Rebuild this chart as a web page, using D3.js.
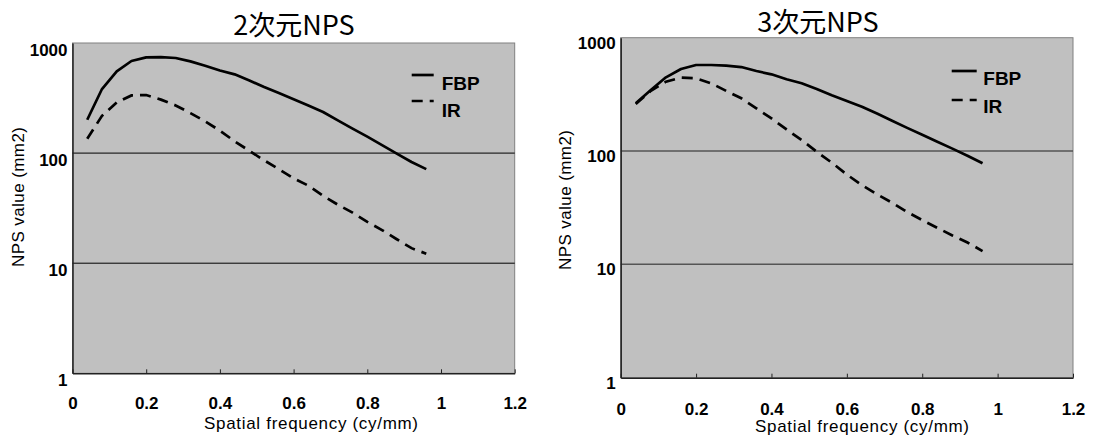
<!DOCTYPE html>
<html>
<head>
<meta charset="utf-8">
<title>NPS</title>
<script src="https://d3js.org/d3.v7.min.js"></script>
<style>
body { margin: 0; padding: 0; background: #fff; }
svg text { font-family: "Liberation Sans", Arial, sans-serif; fill: #000; }
.title { font-family: "Noto Sans CJK JP", sans-serif; font-size: 27px; }
.tick text { font-weight: bold; font-size: 17px; }
.axlabel { font-size: 17px; }
.legend text { font-weight: bold; font-size: 19px; }
</style>
</head>
<body>
<svg id="chart" width="1093" height="438"></svg>
<script>
// spatial frequency (cy/mm)
var freq = [0.04, 0.08, 0.12, 0.16, 0.20, 0.24, 0.28, 0.32, 0.36, 0.40, 0.44, 0.48,
            0.52, 0.56, 0.60, 0.64, 0.68, 0.72, 0.76, 0.80, 0.84, 0.88, 0.92, 0.96];

// NPS value (mm2)
var fbp2d = [201, 382, 552, 686, 740, 743, 731, 681, 622, 563, 519, 457,
             398, 351, 309, 271, 236, 198, 167, 141, 118, 99, 83, 71.5];
var ir2d  = [135, 218, 288, 334, 337, 306, 271, 231, 194, 160, 128, 105,
             86, 71.5, 59, 50.7, 41, 34, 28.8, 23.7, 20, 16.5, 13.7, 12.2];
var fbp3d = [264, 345, 447, 529, 574, 574, 566, 551, 508, 475, 430, 396,
             353, 310, 276, 246, 214, 185, 160, 139, 121, 105, 91, 78];
var ir3d  = [260, 340, 409, 444, 438, 396, 339, 292, 238, 194, 155, 125,
             98.6, 79, 62, 50, 41.5, 35, 29, 24.6, 21, 18, 15.6, 13.1];

var xTicks = [0, 0.2, 0.4, 0.6, 0.8, 1, 1.2];
var yTicks = [1, 10, 100, 1000];
var titles = ["2次元NPS", "3次元NPS"];
var seriesNames = ["FBP", "IR"];

// layout of the two panels (pixels)
var panels = [
  {title: titles[0], fbp: fbp2d, ir: ir2d,
   left: 72.5, right: 514.7, top: 43, bottom: 373.3,
   titleX: 294, titleY: 35, grid: "#000", gridW: 1,
   xLabY: 409, yLabDy: 12.5, xTitleX: 311, xTitleY: 429, yTitleX: 24, yTitleY: 197,
   legX: 411.7, legLen: 22, legTextX: 441.7, legY: [75, 101], legTextY: [90, 117]},
  {title: titles[1], fbp: fbp3d, ir: ir3d,
   left: 620.7, right: 1073, top: 37.7, bottom: 377.7,
   titleX: 818, titleY: 32, grid: "#555", gridW: 1.5,
   xLabY: 415, yLabDy: 10.5, xTitleX: 862, xTitleY: 432, yTitleX: 571, yTitleY: 200,
   legX: 951.7, legLen: 25, legTextX: 983.3, legY: [71, 100], legTextY: [85, 113]}
];

var svg = d3.select("#chart");

panels.forEach(function(p) {
  var x = d3.scaleLinear().domain([0, 1.2]).range([p.left, p.right]);
  var y = d3.scaleLog().domain([1, 1000]).range([p.bottom, p.top]);
  var g = svg.append("g");

  // plot background
  g.append("rect")
    .attr("x", p.left).attr("y", p.top)
    .attr("width", p.right - p.left).attr("height", p.bottom - p.top)
    .attr("fill", "#c0c0c0").attr("stroke", "#808080").attr("stroke-width", 1);

  // horizontal gridlines
  g.append("g")
    .selectAll("line")
    .data([10, 100])
    .enter().append("line")
    .attr("x1", p.left).attr("x2", p.right)
    .attr("y1", function(d) { return y(d); })
    .attr("y2", function(d) { return y(d); })
    .attr("stroke", p.grid).attr("stroke-width", p.gridW);

  // x axis, ticks pointing inward
  var gx = g.append("g")
    .attr("transform", "translate(0," + p.bottom + ")")
    .call(d3.axisBottom(x).tickValues(xTicks).tickSizeInner(-4).tickSizeOuter(0)
      .tickFormat(function(d) { return d3.format("")(d); }));
  gx.select(".domain").attr("stroke", "#222").attr("stroke-width", 1.5);
  gx.selectAll(".tick line").attr("stroke", "#222");
  gx.selectAll(".tick text").attr("y", p.xLabY - p.bottom).attr("dy", null);

  // y axis
  var gy = g.append("g")
    .attr("transform", "translate(" + p.left + ",0)")
    .call(d3.axisLeft(y).tickValues(yTicks).tickSize(0).tickPadding(5)
      .tickFormat(d3.format("d")));
  gy.select(".domain").attr("stroke", "#222").attr("stroke-width", 1.5);
  gy.selectAll(".tick text").attr("dy", null).attr("y", p.yLabDy);

  // series
  var line = d3.line()
    .x(function(d) { return x(d[0]); })
    .y(function(d) { return y(d[1]); });

  g.append("path")
    .datum(d3.zip(freq, p.fbp))
    .attr("d", line)
    .attr("fill", "none").attr("stroke", "#000").attr("stroke-width", 2.7)
    .attr("stroke-linejoin", "round");

  g.append("path")
    .datum(d3.zip(freq, p.ir))
    .attr("d", line)
    .attr("fill", "none").attr("stroke", "#000").attr("stroke-width", 2.7)
    .attr("stroke-dasharray", "11,7");

  // legend
  var lg = g.append("g").attr("class", "legend");
  seriesNames.forEach(function(name, i) {
    lg.append("line")
      .attr("x1", p.legX).attr("x2", p.legX + p.legLen)
      .attr("y1", p.legY[i]).attr("y2", p.legY[i])
      .attr("stroke", "#000").attr("stroke-width", 2.7)
      .attr("stroke-dasharray", i == 1 ? "11,7" : null);
    lg.append("text")
      .attr("x", p.legTextX).attr("y", p.legTextY[i])
      .text(name);
  });

  // titles
  g.append("text").attr("class", "title")
    .attr("x", p.titleX).attr("y", p.titleY)
    .attr("text-anchor", "middle")
    .text(p.title);

  g.append("text").attr("class", "axlabel")
    .attr("x", p.xTitleX).attr("y", p.xTitleY)
    .attr("text-anchor", "middle")
    .attr("textLength", 214).attr("lengthAdjust", "spacing")
    .text("Spatial frequency (cy/mm)");

  g.append("text").attr("class", "axlabel")
    .attr("transform", "translate(" + p.yTitleX + "," + p.yTitleY + ") rotate(-90)")
    .attr("text-anchor", "middle")
    .attr("textLength", 140).attr("lengthAdjust", "spacing")
    .text("NPS value (mm2)");
});
</script>
</body>
</html>
